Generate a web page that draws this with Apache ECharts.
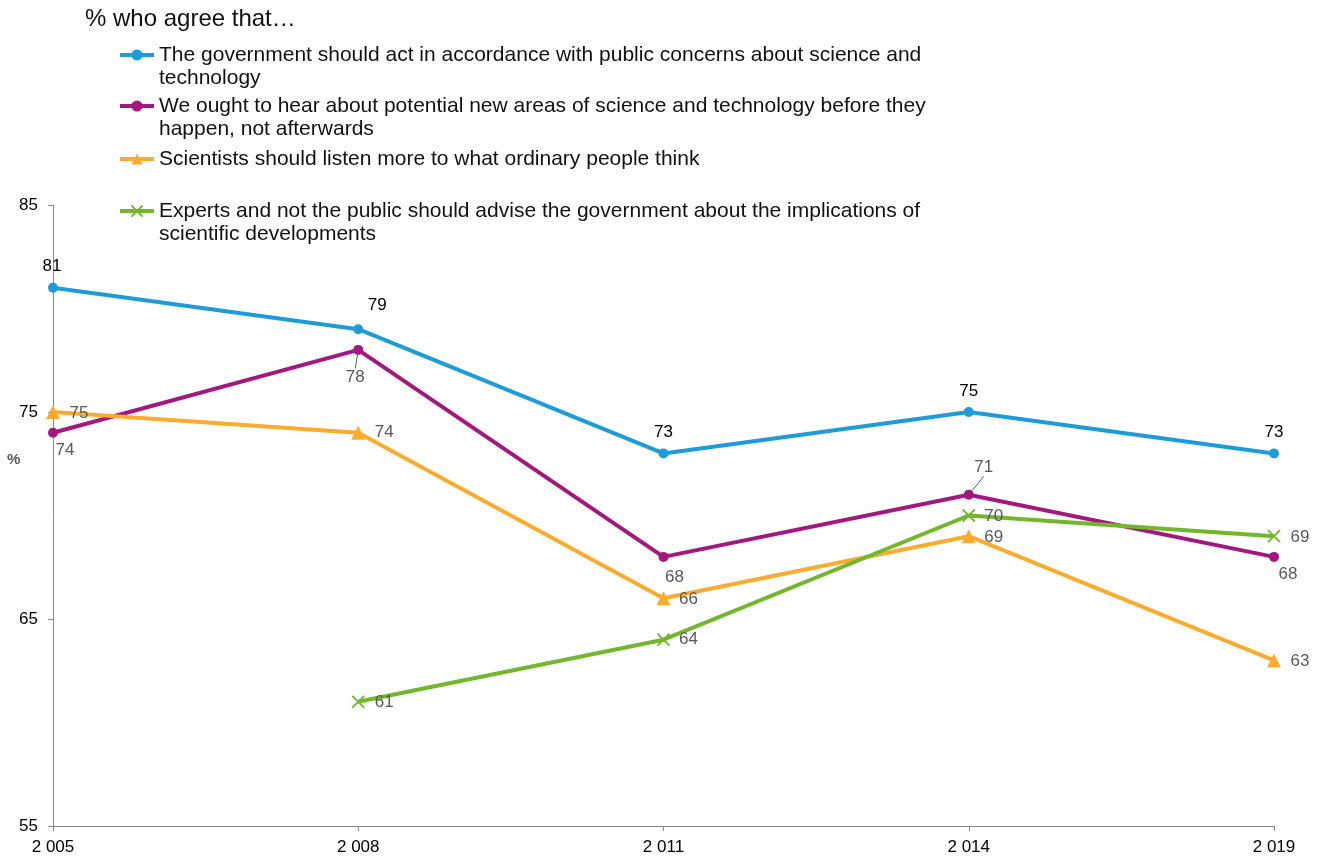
<!DOCTYPE html>
<html>
<head>
<meta charset="utf-8">
<script src="https://cdn.jsdelivr.net/npm/echarts@6/dist/echarts.min.js"></script>
<style>
html,body{margin:0;padding:0;background:#fff;}
#chart{width:1322px;height:857px;}
</style>
</head>
<body>
<div id="chart"></div>
<script>
// ---- data ----
const categories = ['2 005', '2 008', '2 011', '2 014', '2 019'];
const seriesNames = [
  'The government should act in accordance with public concerns about science and technology',
  'We ought to hear about potential new areas of science and technology before they happen, not afterwards',
  'Scientists should listen more to what ordinary people think',
  'Experts and not the public should advise the government about the implications of scientific developments'
];
const legendLabels = [
  'The government should act in accordance with public concerns about science and\ntechnology',
  'We ought to hear about potential new areas of science and technology before they\nhappen, not afterwards',
  'Scientists should listen more to what ordinary people think',
  'Experts and not the public should advise the government about the implications of\nscientific developments'
];
const govActValues = [81, 79, 73, 75, 73];
const hearBeforeValues = [74, 78, 68, 71, 68];
const listenValues = [75, 74, 66, 69, 63];
const expertsValues = [null, 61, 64, 70, 69];
const yTicks = [55, 65, 75, 85];
const titleText = '% who agree that…';
const yAxisTitle = '%';

// ---- styling / layout (not data) ----
const colors = ['#1E9CD8', '#A3187F', '#FBAC2E', '#72B72C'];
const labelOffsets = [
  [[-1, -21], [19, -24], [0, -21], [0, -21], [0, -21]],
  [[12, 18], [-3, 27], [11, 20], [15, -27], [14, 17]],
  [[26, 1], [26, 0], [25, 1], [25, 1], [26, 1]],
  [[26, 1], [26, 1], [25, 0], [25, 1], [26, 1]]
];
const leaderItems = [[], [1, 3], [], []];
const labelColors = ['#000000', '#595959', '#595959', '#595959'];
const symbols = ['circle', 'circle', 'triangle', 'path://M0,0L10,10M10,0L0,10'];
const symbolSizes = [10, 10, 14, 12];
const legendTops = [20.5, 71.5, 147.5, 176.5];
const valueSets = [govActValues, hearBeforeValues, listenValues, expertsValues];

const chart = echarts.init(document.getElementById('chart'), null, {renderer: 'canvas'});

const series = valueSets.map((vals, si) => ({
  name: seriesNames[si],
  type: 'line',
  data: vals.map((v, i) => {
    const item = {value: v == null ? '-' : v};
    if (leaderItems[si].indexOf(i) >= 0) {
      item.labelLine = {show: true, lineStyle: {color: '#595959', width: 1}};
    }
    return item;
  }),
  connectNulls: false,
  symbol: symbols[si],
  symbolSize: symbolSizes[si],
  showAllSymbol: true,
  lineStyle: {width: 4, color: colors[si]},
  itemStyle: si === 3
    ? {color: colors[si], borderColor: colors[si], borderWidth: 1.8}
    : {color: colors[si], borderWidth: 0},
  label: {
    show: true,
    position: 'inside',
    color: labelColors[si],
    fontSize: 17,
    fontFamily: 'Liberation Sans, Arial, sans-serif'
  },
  labelLine: {show: false, smooth: false, length2: 0},
  labelLayout: function (p) {
    const off = labelOffsets[si][p.dataIndex] || [0, 0];
    return {
      x: p.rect.x + p.rect.width / 2 + off[0],
      y: p.rect.y + p.rect.height / 2 + off[1],
      align: 'center',
      verticalAlign: 'middle',
      hideOverlap: false
    };
  },
  emphasis: {disabled: true},
  animation: false,
  z: 2 + si
}));

const legends = seriesNames.map((n, i) => ({
  show: true,
  data: [n],
  left: 118,
  top: legendTops[i],
  padding: 0,
  itemWidth: 34,
  itemHeight: 14,
  selectedMode: false,
  lineStyle: {width: 4},
  formatter: function (name) {
    const t = legendLabels[seriesNames.indexOf(name)];
    return t.indexOf('\n') >= 0 ? ' \n' + t : t;
  },
  textStyle: {
    fontSize: 21,
    lineHeight: 23,
    color: '#111111',
    fontFamily: 'Liberation Sans, Arial, sans-serif'
  }
}));

const option = {
  backgroundColor: '#ffffff',
  animation: false,
  textStyle: {fontFamily: 'Liberation Sans, Arial, sans-serif'},
  legend: legends,
  grid: {left: 53, right: 48, top: 205, bottom: 31, containLabel: false},
  xAxis: {
    type: 'category',
    data: categories,
    boundaryGap: false,
    axisLine: {show: true, lineStyle: {color: '#898989', width: 1}},
    axisTick: {show: true, length: 5, lineStyle: {color: '#898989'}},
    axisLabel: {color: '#000000', fontSize: 17, margin: 13, fontFamily: 'Liberation Sans, Arial, sans-serif'},
    splitLine: {show: false}
  },
  yAxis: {
    type: 'value',
    min: 55,
    max: 85,
    axisLine: {show: true, lineStyle: {color: '#898989', width: 1}},
    axisTick: {show: true, length: 5, lineStyle: {color: '#898989'}, customValues: yTicks},
    axisLabel: {color: '#000000', fontSize: 17, margin: 15, customValues: yTicks, fontFamily: 'Liberation Sans, Arial, sans-serif'},
    splitLine: {show: false}
  },
  graphic: [
    {
      type: 'text', left: 85, top: 7,
      style: {text: titleText, fontSize: 24, fill: '#111111', fontFamily: 'Liberation Sans, Arial, sans-serif'}
    },
    {
      type: 'text', left: 7, top: 452,
      style: {text: yAxisTitle, fontSize: 15, fontWeight: 'bold', fill: '#595959', fontFamily: 'Liberation Sans, Arial, sans-serif'}
    }
  ],
  series: series
};
chart.setOption(option);
</script>
</body>
</html>
